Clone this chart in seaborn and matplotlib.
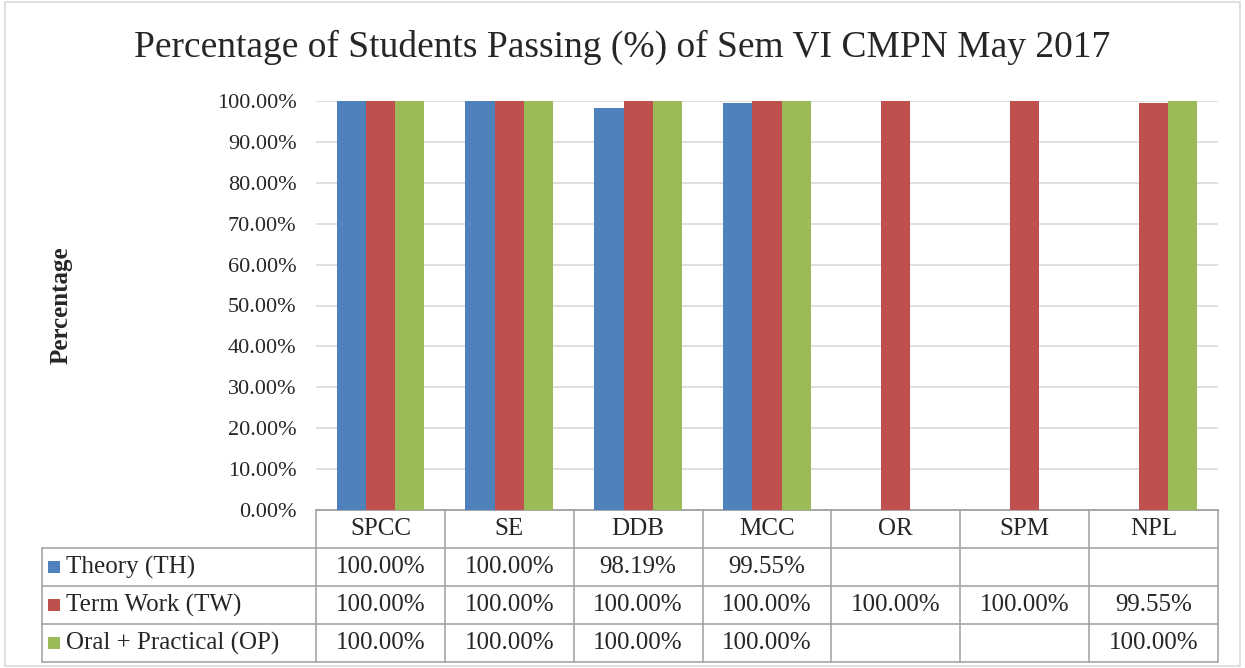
import numpy as np
import pandas as pd
import matplotlib.pyplot as plt
import matplotlib.transforms as mtransforms
from matplotlib.patches import Rectangle
import seaborn as sns

subjects = ["SPCC", "SE", "DDB", "MCC", "OR", "SPM", "NPL"]
series = ["Theory (TH)", "Term Work (TW)", "Oral + Practical (OP)"]
theory = [1.0, 1.0, 0.9819, 0.9955, np.nan, np.nan, np.nan]
term_work = [1.0, 1.0, 1.0, 1.0, 1.0, 1.0, 0.9955]
oral_practical = [1.0, 1.0, 1.0, 1.0, np.nan, np.nan, 1.0]
colors = ["#4F81BD", "#C0504D", "#9BBB59"]

values = {series[0]: theory, series[1]: term_work, series[2]: oral_practical}
rows = []
for s in series:
    for subj, v in zip(subjects, values[s]):
        rows.append({"Subject": subj, "Series": s, "Pass": v})
df = pd.DataFrame(rows)

sns.set_theme(style="white")
SERIF = ['Liberation Serif', 'DejaVu Serif']
plt.rcParams['font.family'] = SERIF

W, H = 1245, 668
fig = plt.figure(figsize=(W / 100, H / 100), dpi=100)
ax = fig.add_axes([316 / W, 1 - 510 / H, (1218 - 316) / W, (510 - 101) / H])

sns.barplot(data=df.dropna(), x="Subject", y="Pass", hue="Series",
            order=subjects, hue_order=series, palette=colors,
            width=0.68, saturation=1, ax=ax, legend=False, zorder=3,
            edgecolor='none')

yt = np.arange(0, 1.01, 0.1)
ax.set_xlim(-0.5, len(subjects) - 0.5)
ax.set_ylim(0, 1.0)
ax.set_yticks(yt)
ax.set_yticklabels([f"{t * 100:.2f}%" for t in yt], fontsize=16, family=SERIF)
ax.tick_params(axis='y', length=0, pad=14)
ax.set_xticks([])
ax.set_xlabel("")
ax.set_ylabel("Percentage", fontsize=18, fontweight='bold', family=SERIF)
ax.yaxis.set_label_coords((73 - 316) / (1218 - 316), 0.5)
ax.grid(axis='y', color='#D9D9D9', linewidth=1.2, zorder=0)
for side in ['top', 'right', 'left']:
    ax.spines[side].set_visible(False)
ax.spines['bottom'].set_color('#A6A6A6')

fig.suptitle("Percentage of Students Passing (%) of Sem VI CMPN May 2017",
             x=0.5, y=0.955, fontsize=27, family=SERIF)

# data table below the plot
tr = mtransforms.blended_transform_factory(ax.transData, ax.transAxes)
row_h = 38 / (510 - 101)
unit_px = (1218 - 316) / len(subjects)
x_left = -0.5 - (316 - 42) / unit_px
x_right = len(subjects) - 0.5
line_kw = dict(color='#A6A6A6', linewidth=1.2, transform=tr, clip_on=False)
txt_kw = dict(va='center', fontsize=18, family=SERIF, transform=tr)

# category header row
for i, subj in enumerate(subjects):
    ax.text(i, -row_h / 2, subj, ha='center', **txt_kw)
for k in range(len(subjects) + 1):
    ax.plot([k - 0.5, k - 0.5], [0, -4 * row_h], **line_kw)
ax.plot([x_left, x_left], [-row_h, -4 * row_h], **line_kw)
ax.plot([-0.5, x_right], [0, 0], **line_kw)
for r in range(1, 5):
    ax.plot([x_left, x_right], [-r * row_h, -r * row_h], **line_kw)

for r, s in enumerate(series):
    yc = -(r + 1.5) * row_h
    ax.add_patch(Rectangle((x_left + 6 / unit_px, yc - 6 / 409), 12 / unit_px, 12 / 409,
                           facecolor=colors[r], edgecolor='none',
                           transform=tr, clip_on=False))
    ax.text(x_left + 24 / unit_px, yc, s, ha='left', **txt_kw)
    for i, v in enumerate(values[s]):
        if not np.isnan(v):
            ax.text(i, yc, f"{v * 100:.2f}%", ha='center', **txt_kw)

# outer chart border
fig.add_artist(Rectangle((5 / W, 2 / H), 1 - 10 / W, 1 - 4 / H, transform=fig.transFigure,
                         fill=False, edgecolor='#D9D9D9', linewidth=1.2))

fig.savefig("out.png", dpi=100)
